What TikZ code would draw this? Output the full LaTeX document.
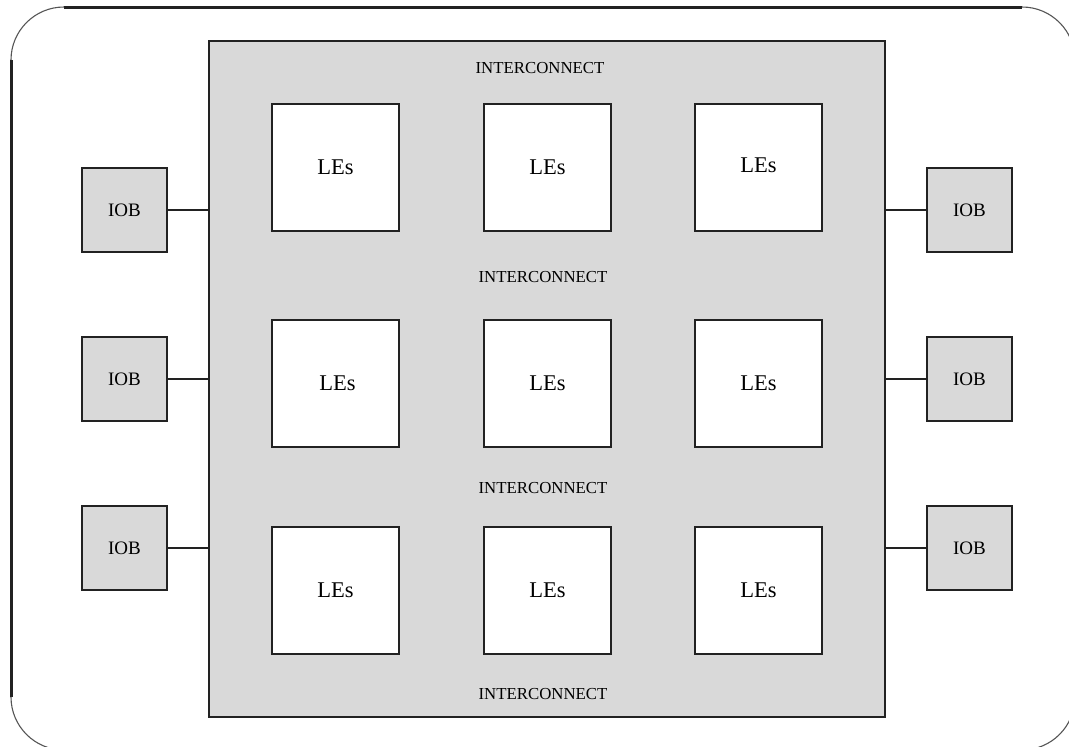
\documentclass[tikz,border=0pt]{standalone}
\usepackage{fontspec}
\setmainfont{Liberation Serif}
\definecolor{panel}{HTML}{D9D9D9}
\definecolor{edge}{HTML}{222222}
\definecolor{rim}{HTML}{555555}
\begin{document}
\begin{tikzpicture}[x=1pt,y=-1pt,
  fabricbox/.style={draw=edge, line width=1.3pt, fill=panel, minimum width=676pt, minimum height=676pt, inner sep=0pt},
  lebox/.style={draw=edge, line width=1.1pt, fill=white, minimum width=127pt, minimum height=127pt, inner sep=0pt,
    font=\fontsize{22.5}{24}\selectfont},
  iobox/.style={draw=edge, line width=1.1pt, fill=panel, minimum width=85pt, minimum height=84pt, inner sep=0pt,
    font=\fontsize{19}{21}\selectfont},
  iclabel/.style={font=\fontsize{16.8}{18}\selectfont, inner sep=0pt},
  wire/.style={draw=edge, line width=1.1pt},
  frameline/.style={draw=edge, line width=3pt},
  framearc/.style={draw=rim, line width=1.1pt}]
\useasboundingbox (0,0) rectangle (1069,747);
\clip (0,0) rectangle (1069,747);

% slide frame: straight edges heavy, rounded corners light
\draw[frameline] (64,7) -- (1022,7);
\draw[frameline] (11,60) -- (11,697);
\draw[framearc] (11,60) arc[start angle=180, end angle=270, radius=53];
\draw[framearc] (1022,7) arc[start angle=270, end angle=360, radius=53];
\draw[framearc] (11,697) arc[start angle=180, end angle=90, radius=53];
\draw[framearc] (1075,697) arc[start angle=0, end angle=90, radius=53];

% routing fabric
\node[fabricbox] (fabric) at (547,379) {};
\node[iclabel] (ic0) at (540,68) {INTERCONNECT};
\node[iclabel] (ic1) at (543,277) {INTERCONNECT};
\node[iclabel] (ic2) at (543,488) {INTERCONNECT};
\node[iclabel] (ic3) at (543,694) {INTERCONNECT};

% logic element blocks
\node[lebox] (le11) at (335.5,167.5) {LEs};
\node[lebox] (le12) at (547.5,167.5) {LEs};
\node[lebox] (le13) at (758.5,167.5) {\raisebox{5pt}{LEs}};
\node[lebox] (le21) at (335.5,383.5) {\hspace{4pt}LEs};
\node[lebox] (le22) at (547.5,383.5) {LEs};
\node[lebox] (le23) at (758.5,383.5) {LEs};
\node[lebox] (le31) at (335.5,590.5) {LEs};
\node[lebox] (le32) at (547.5,590.5) {LEs};
\node[lebox] (le33) at (758.5,590.5) {LEs};

% I/O blocks
\node[iobox] (iobL1) at (124.5,210) {\raisebox{-3pt}{IOB}};
\node[iobox] (iobL2) at (124.5,379) {\raisebox{-3pt}{IOB}};
\node[iobox] (iobL3) at (124.5,548) {\raisebox{-3pt}{IOB}};
\node[iobox] (iobR1) at (969.5,210) {\raisebox{-3pt}{IOB}};
\node[iobox] (iobR2) at (969.5,379) {\raisebox{-3pt}{IOB}};
\node[iobox] (iobR3) at (969.5,548) {\raisebox{-3pt}{IOB}};

% I/O connections into the fabric
\foreach \k in {1,2,3}{
  \draw[wire] (iobL\k.east) -- (iobL\k.east -| fabric.west);
  \draw[wire] (iobR\k.west) -- (iobR\k.west -| fabric.east);
}
\end{tikzpicture}
\end{document}
